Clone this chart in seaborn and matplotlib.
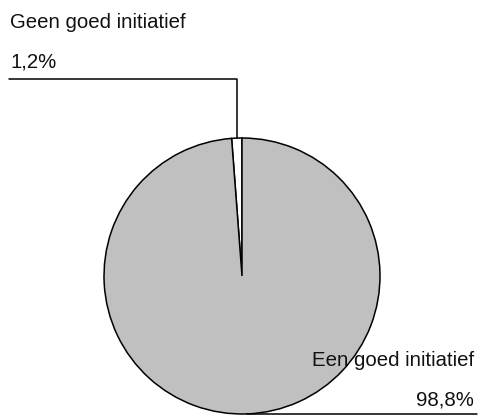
import numpy as np
import matplotlib
matplotlib.use("Agg")
import matplotlib.pyplot as plt
import seaborn as sns

# Answers to the question: is this a good initiative?
labels = ["Geen goed initiatief", "Een goed initiatief"]
shares = [1.2, 98.8]
value_labels = ["1,2%", "98,8%"]
colors = ["#FFFFFF", "#C0C0C0"]

sns.set_theme(style="white")
plt.rcParams["font.family"] = ["Liberation Sans", "DejaVu Sans"]

W, H = 480, 416
fig = plt.figure(figsize=(W / 100, H / 100), dpi=100)
ax = fig.add_axes([0, 0, 1, 1])

cx, cy, r = 242, H - 276, 138
start = 90
wedges, _ = ax.pie(shares, colors=colors, startangle=start, counterclock=True,
                   center=(cx, cy), radius=r,
                   wedgeprops=dict(edgecolor="black", linewidth=1.1))
ax.set_xlim(0, W)
ax.set_ylim(0, H)
ax.set_aspect("equal")
ax.axis("off")

fs = 14.7
# leader line for the small wedge: up from its rim midpoint, then left
w0 = wedges[0]
mid0 = np.deg2rad((w0.theta1 + w0.theta2) / 2)
x0, y0 = cx + r * np.cos(mid0), cy + r * np.sin(mid0)
ax.plot([x0, x0, 9], [y0, H - 79, H - 79], color="black", lw=1.1)
ax.text(10, H - 22, labels[0], ha="left", va="center", fontsize=fs, color="#111111")
ax.text(10, H - 62, value_labels[0], ha="left", va="center", fontsize=fs, color="#111111")

# leader line for the large wedge: from its rim midpoint to the right
w1 = wedges[1]
mid1 = np.deg2rad((w1.theta1 + w1.theta2) / 2)
x1, y1 = cx + r * np.cos(mid1), cy + r * np.sin(mid1)
ax.plot([x1, 477], [y1, y1], color="black", lw=1.1)
ax.text(474, H - 360, labels[1], ha="right", va="center", fontsize=fs, color="#111111")
ax.text(474, H - 400, value_labels[1], ha="right", va="center", fontsize=fs, color="#111111")

fig.savefig("out.png", dpi=100, facecolor="white")
